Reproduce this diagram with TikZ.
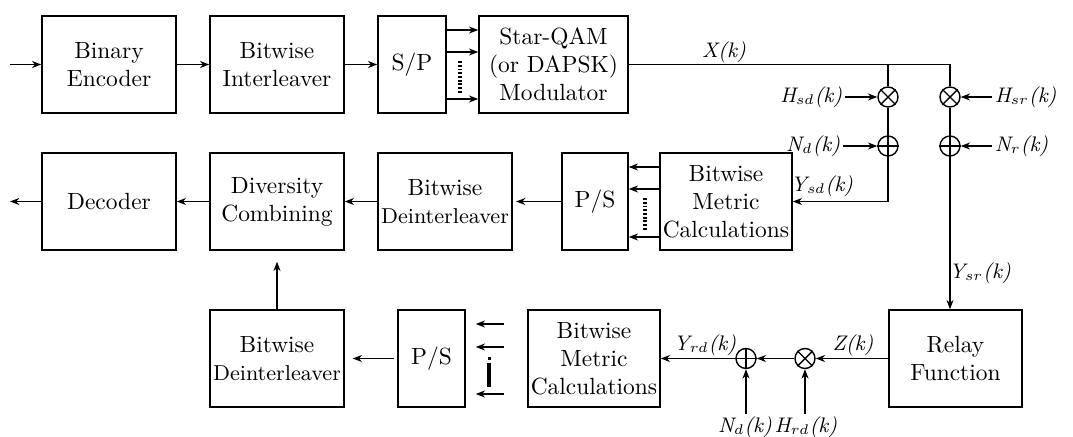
\documentclass[tikz,border=0pt]{standalone}
\usetikzlibrary{arrows.meta,calc}
\begin{document}
\begin{tikzpicture}[x=0.015cm,y=-0.015cm,
  blk/.style={draw,line width=0.6pt,minimum height=1.455cm,align=center,inner sep=0pt,font=\fontsize{10}{12}\selectfont},
  arr/.style={-{Stealth[length=4pt,width=3pt]},line width=0.6pt},
  ln/.style={line width=0.6pt},
  lbl/.style={font=\fontsize{9}{10}\selectfont\itshape,inner sep=1pt},
  mix/.style={draw,circle,minimum size=0.3cm,inner sep=0pt,line width=0.6pt},
  dotbar/.style={line width=1.5pt,dash pattern=on 0.8pt off 0.8pt}]
\fill[white] (0,0) rectangle (1073,436);
\useasboundingbox (0,0) rectangle (1073,436);
% blocks
\node[blk,minimum width=2.01cm] (enc) at (109,64.5) {Binary\\Encoder};
\node[blk,minimum width=2.01cm] (intl) at (277,64.5) {Bitwise\\Interleaver};
\node[blk,minimum width=1.02cm] (sp) at (412,64.5) {S/P};
\node[blk,minimum width=2.235cm] (mod) at (553.5,64.5) {Star-QAM\\(or DAPSK)\\Modulator};
\node[blk,minimum width=2.01cm] (dec) at (109,201.5) {Decoder};
\node[blk,minimum width=2.01cm] (div) at (277,201.5) {Diversity\\Combining};
\node[blk,minimum width=2.01cm] (dint1) at (445,201.5) {Bitwise\\{\fontsize{9.2}{12}\selectfont Deinterleaver}};
\node[blk,minimum width=0.99cm] (ps1) at (595,201.5) {P/S};
\node[blk,minimum width=1.98cm] (bmc1) at (726,201.5) {Bitwise\\Metric\\Calculations};
\node[blk,minimum width=2.01cm] (dint2) at (277,358.5) {Bitwise\\{\fontsize{9.2}{12}\selectfont Deinterleaver}};
\node[blk,minimum width=1.005cm] (ps2) at (431.5,358.5) {P/S};
\node[blk,minimum width=1.98cm] (bmc2) at (594,358.5) {Bitwise\\Metric\\Calculations};
\node[blk,minimum width=1.995cm] (relay) at (955.5,358.5) {Relay\\Function};
% mixers and adders
\node[mix] (m1) at (888,97) {};
\node[mix] (a1) at (888,146) {};
\node[mix] (m2) at (950,97) {};
\node[mix] (a2) at (950,146) {};
\node[mix] (m3) at (805,358.5) {};
\node[mix] (a3) at (746,358.5) {};
\foreach \m in {m1,m2,m3}{\draw[ln] (\m.north east)--(\m.south west) (\m.north west)--(\m.south east);}
\foreach \a in {a1,a2,a3}{\draw[ln] (\a.north)--(\a.south) (\a.east)--(\a.west);}
% coordinates
\coordinate (in) at (10,64.5);
\coordinate (out) at (10,201.5);
\coordinate (j1) at (888,64.5);
\coordinate (j2) at (950,64.5);
\coordinate (r1) at (0,30);
\coordinate (r2) at (0,52);
\coordinate (r3) at (0,99);
\coordinate (q1) at (0,167);
\coordinate (q2) at (0,189);
\coordinate (q3) at (0,237);
\coordinate (b1) at (0,324);
\coordinate (b2) at (0,347);
\coordinate (b3) at (0,394);
\coordinate (d1) at (460,61);
\coordinate (d2) at (460,94);
\coordinate (e1) at (645,198);
\coordinate (e2) at (645,230);
\coordinate (f1) at (489,363);
\coordinate (f2) at (489,387);
% top row
\draw[arr] (in) -- (enc);
\draw[arr] (enc) -- (intl);
\draw[arr] (intl) -- (sp);
\foreach \r in {r1,r2,r3}{\draw[arr] (sp.east|-\r) -- (mod.west|-\r);}
\draw[dotbar] (d1) -- (d2);
\draw[ln] (mod.east) -- (j2) -- (m2);
\draw[ln] (j1) -- (m1);
\draw[ln] (m1) -- (a1);
\draw[ln] (m2) -- (a2);
\draw[arr] (a1) |- (bmc1.east);
\draw[arr] (a2) -- (a2 |- relay.north);
\node[lbl] (xk) at (724,52) {X(k)};
\node[lbl,anchor=east] (hsd) at (845,97) {H$_{sd}$(k)};
\node[lbl,anchor=east] (nd1) at (843,146) {N$_d$(k)};
\node[lbl,anchor=west] (hsr) at (992,97) {H$_{sr}$(k)};
\node[lbl,anchor=west] (nr) at (992,146) {N$_r$(k)};
\draw[arr] (hsd) -- (m1);
\draw[arr] (nd1) -- (a1);
\draw[arr] (hsr) -- (m2);
\draw[arr] (nr) -- (a2);
\node[lbl] (ysd) at (822,186) {Y$_{sd}$(k)};
\node[lbl] (ysr) at (980,273) {Y$_{sr}$(k)};
% middle row
\foreach \q in {q1,q2,q3}{\draw[arr] (bmc1.west|-\q) -- (ps1.east|-\q);}
\draw[dotbar] (e1) -- (e2);
\draw[arr,shorten >=0.05cm] (ps1) -- (dint1);
\draw[arr] (dint1) -- (div);
\draw[arr] (div) -- (dec);
\draw[arr] (dec) -- (out);
% bottom row
\draw[arr] (relay) -- (m3);
\draw[arr] (m3) -- (a3);
\draw[arr] (a3) -- (bmc2);
\node[lbl] (zk) at (853,345) {Z(k)};
\node[lbl] (yrd) at (705,345) {Y$_{rd}$(k)};
\node[lbl] (nd2) at (745,427) {N$_d$(k)};
\node[lbl] (hrd) at (806,427) {H$_{rd}$(k)};
\draw[arr] (nd2.north -| a3) -- (a3);
\draw[arr] (hrd.north -| m3) -- (m3);
\foreach \b in {b1,b2,b3}{\draw[arr,shorten <=0.345cm,shorten >=0.15cm] (bmc2.west|-\b) -- (ps2.east|-\b);}
\draw[line width=1.3pt] (f1) -- (f2);
\fill (487.5,356.5) rectangle (490.5,360);
\draw[arr,shorten <=0.05cm,shorten >=0.12cm] (ps2) -- (dint2);
\draw[arr,shorten >=0.165cm] (dint2) -- (div);
\end{tikzpicture}
\end{document}
